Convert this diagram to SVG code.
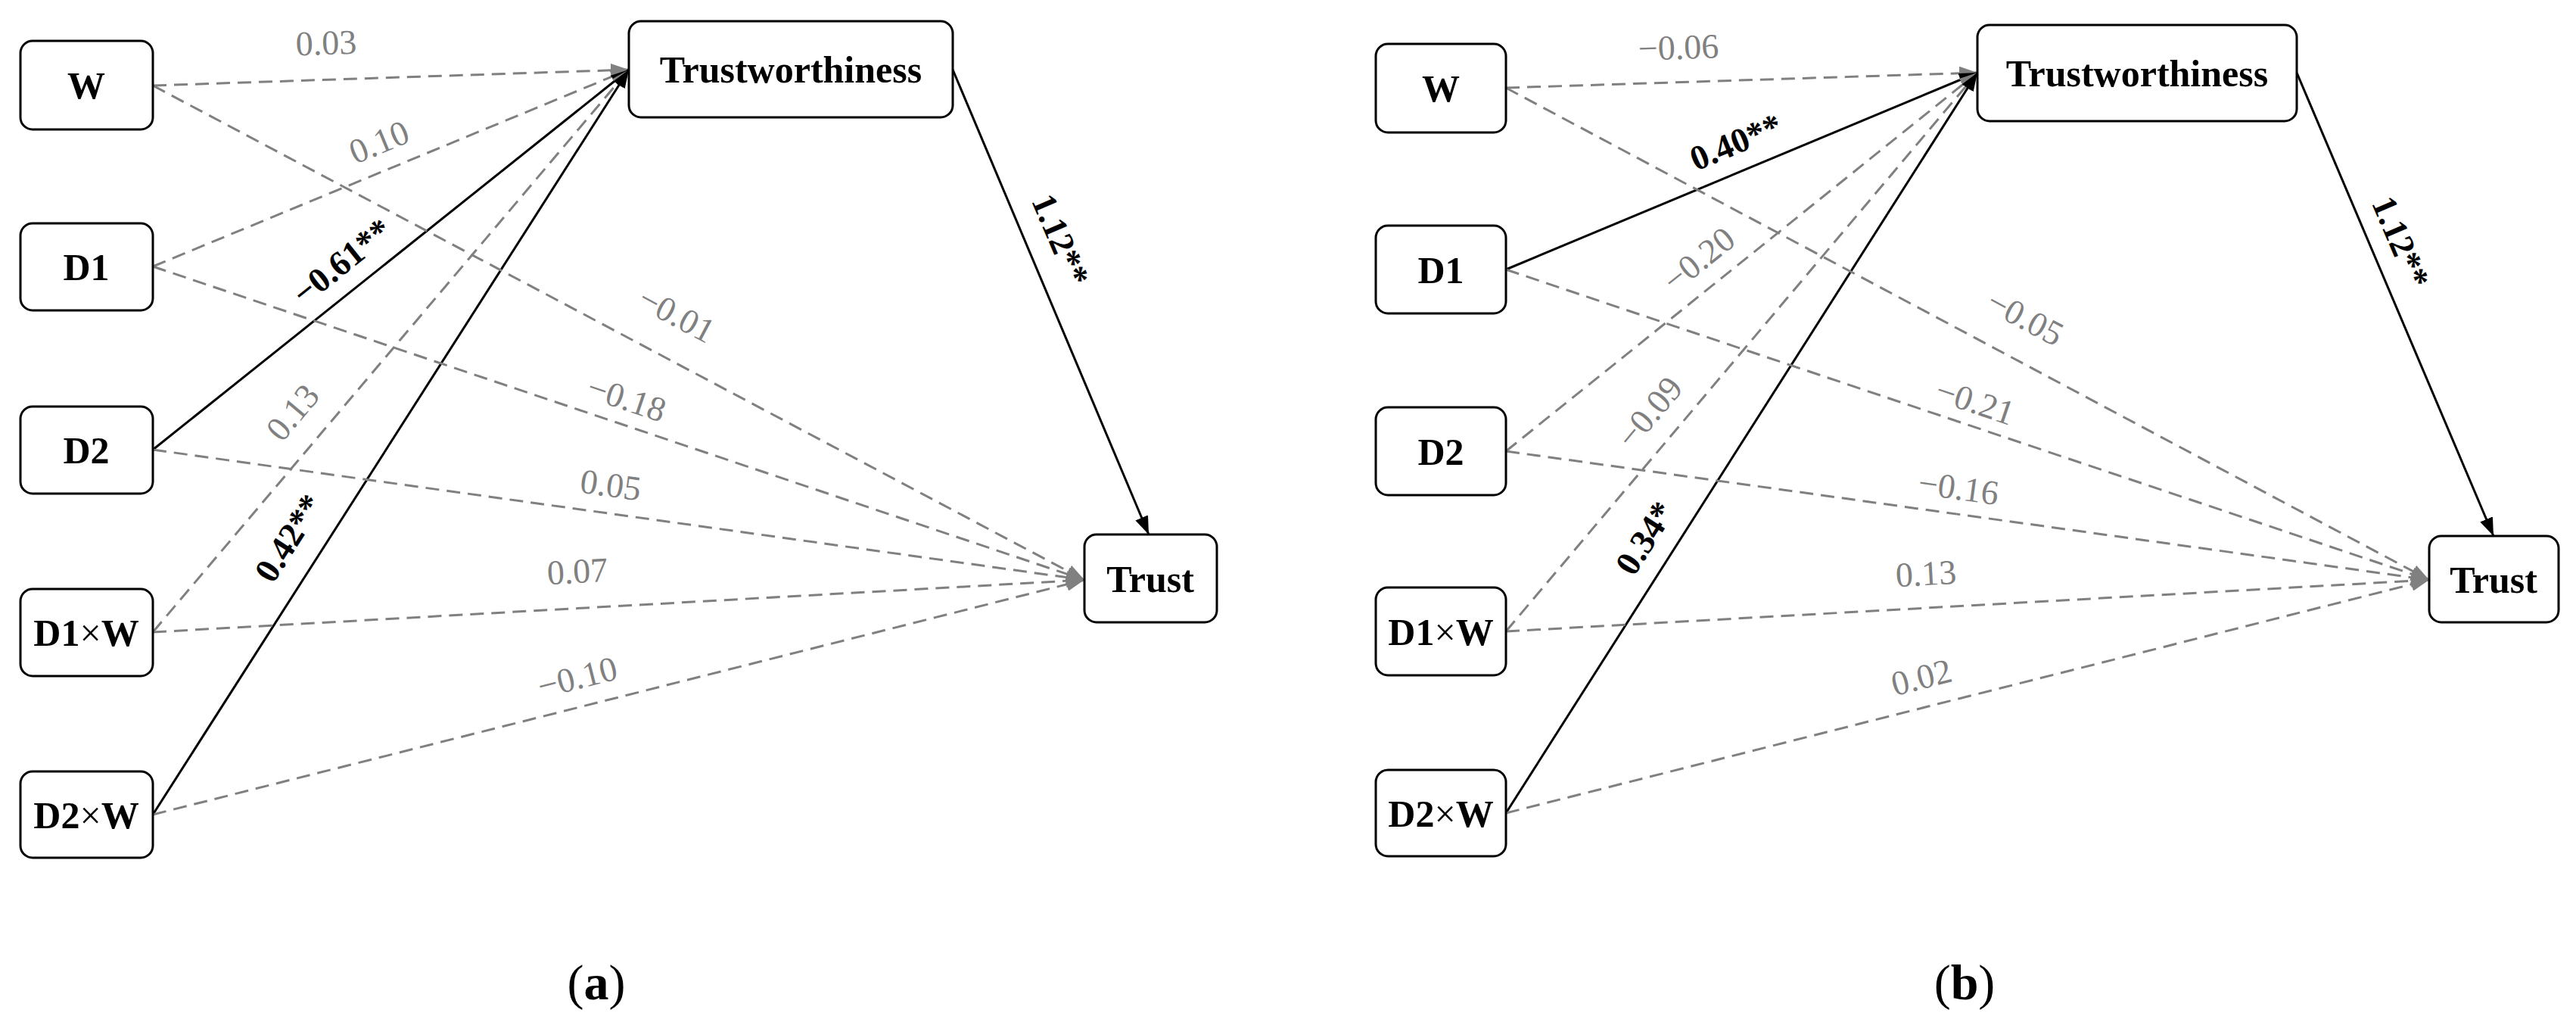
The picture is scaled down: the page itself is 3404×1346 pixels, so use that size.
<svg xmlns="http://www.w3.org/2000/svg" width="3404" height="1346" viewBox="0 0 3404 1346">
<style>
.box{fill:#fff;stroke:#000;stroke-width:3}
.nt{font-family:"Liberation Serif",serif;font-weight:bold;font-size:50px;text-anchor:middle;fill:#000}
.g{stroke:#808080;stroke-width:3;stroke-dasharray:18 10;fill:none}
.k{stroke:#000;stroke-width:3;fill:none}
.gl{font-family:"Liberation Serif",serif;font-size:46px;fill:#808080;text-anchor:middle}
.kl{font-family:"Liberation Serif",serif;font-size:46px;font-weight:bold;fill:#000;text-anchor:middle}
.cap{font-family:"Liberation Serif",serif;font-size:66px;fill:#000;text-anchor:middle}
</style>
<defs>
<marker id="ag" markerWidth="24" markerHeight="18" refX="24" refY="9" orient="auto" markerUnits="userSpaceOnUse" viewBox="0 0 24 18"><path d="M0,0 L24,9 L0,18 Z" fill="#808080"/></marker>
<marker id="ak" markerWidth="24" markerHeight="18" refX="24" refY="9" orient="auto" markerUnits="userSpaceOnUse" viewBox="0 0 24 18"><path d="M0,0 L24,9 L0,18 Z" fill="#000"/></marker>
</defs>
<g id="connectors">
<g id="conn-a">
<line class="g" x1="202" y1="113" x2="831" y2="92" marker-end="url(#ag)"/>
<line class="g" x1="202" y1="352" x2="831" y2="92" marker-end="url(#ag)"/>
<line class="k" x1="202" y1="594" x2="831" y2="92" marker-end="url(#ak)"/>
<line class="g" x1="202" y1="835" x2="831" y2="92" marker-end="url(#ag)"/>
<line class="k" x1="202" y1="1076" x2="831" y2="92" marker-end="url(#ak)"/>
<line class="g" x1="202" y1="113" x2="1433" y2="766" marker-end="url(#ag)"/>
<line class="g" x1="202" y1="352" x2="1433" y2="766" marker-end="url(#ag)"/>
<line class="g" x1="202" y1="594" x2="1433" y2="766" marker-end="url(#ag)"/>
<line class="g" x1="202" y1="835" x2="1433" y2="766" marker-end="url(#ag)"/>
<line class="g" x1="202" y1="1076" x2="1433" y2="766" marker-end="url(#ag)"/>
<line class="k" x1="1259" y1="92" x2="1518" y2="706" marker-end="url(#ak)"/>
</g>
<g id="conn-b">
<line class="g" x1="1990" y1="116" x2="2613" y2="96" marker-end="url(#ag)"/>
<line class="k" x1="1990" y1="356" x2="2613" y2="96" marker-end="url(#ak)"/>
<line class="g" x1="1990" y1="596" x2="2613" y2="96" marker-end="url(#ag)"/>
<line class="g" x1="1990" y1="834" x2="2613" y2="96" marker-end="url(#ag)"/>
<line class="k" x1="1990" y1="1074" x2="2613" y2="96" marker-end="url(#ak)"/>
<line class="g" x1="1990" y1="116" x2="3210" y2="766" marker-end="url(#ag)"/>
<line class="g" x1="1990" y1="356" x2="3210" y2="766" marker-end="url(#ag)"/>
<line class="g" x1="1990" y1="596" x2="3210" y2="766" marker-end="url(#ag)"/>
<line class="g" x1="1990" y1="834" x2="3210" y2="766" marker-end="url(#ag)"/>
<line class="g" x1="1990" y1="1074" x2="3210" y2="766" marker-end="url(#ag)"/>
<line class="k" x1="3035" y1="96" x2="3295" y2="708" marker-end="url(#ak)"/>
</g>
</g>
<g id="labels">
<text class="gl" transform="translate(431,57) rotate(-2)" y="15">0.03</text>
<text class="gl" transform="translate(501,188) rotate(-22.5)" y="15">0.10</text>
<text class="kl" transform="translate(452,346) rotate(-38.6)" y="15">−0.61**</text>
<text class="gl" transform="translate(894,416) rotate(28)" y="15">−0.01</text>
<text class="gl" transform="translate(828,527) rotate(18.6)" y="15">−0.18</text>
<text class="gl" transform="translate(387,545) rotate(-49.7)" y="15">0.13</text>
<text class="gl" transform="translate(807,641) rotate(8)" y="15">0.05</text>
<text class="kl" transform="translate(382,711) rotate(-57.4)" y="15">0.42**</text>
<text class="gl" transform="translate(763,755) rotate(-3.2)" y="15">0.07</text>
<text class="gl" transform="translate(763,895) rotate(-14.1)" y="15">−0.10</text>
<text class="kl" transform="translate(1401,317) rotate(67)" y="15">1.12**</text>
<text class="gl" transform="translate(2218,63) rotate(-2)" y="15">−0.06</text>
<text class="kl" transform="translate(2294,188) rotate(-22.6)" y="15">0.40**</text>
<text class="gl" transform="translate(2245,343) rotate(-38.7)" y="15">−0.20</text>
<text class="gl" transform="translate(2676,420) rotate(28)" y="15">−0.05</text>
<text class="gl" transform="translate(2610,531) rotate(18.6)" y="15">−0.21</text>
<text class="gl" transform="translate(2180,545) rotate(-49.8)" y="15">−0.09</text>
<text class="gl" transform="translate(2588,645) rotate(7.9)" y="15">−0.16</text>
<text class="kl" transform="translate(2174,711) rotate(-57.5)" y="15">0.34*</text>
<text class="gl" transform="translate(2545,758) rotate(-3.2)" y="15">0.13</text>
<text class="gl" transform="translate(2539,895) rotate(-14.2)" y="15">0.02</text>
<text class="kl" transform="translate(3172,320) rotate(67)" y="15">1.12**</text>
</g>
<g id="a-W"><rect class="box" x="27" y="54" width="175" height="117" rx="16"/><text class="nt" x="114" y="130">W</text></g>
<g id="a-D1"><rect class="box" x="27" y="295" width="175" height="115" rx="16"/><text class="nt" x="114" y="370">D1</text></g>
<g id="a-D2"><rect class="box" x="27" y="537" width="175" height="115" rx="16"/><text class="nt" x="114" y="612">D2</text></g>
<g id="a-D1W"><rect class="box" x="27" y="778" width="175" height="115" rx="16"/><text class="nt" x="114" y="853">D1<tspan font-weight="normal">×</tspan>W</text></g>
<g id="a-D2W"><rect class="box" x="27" y="1019" width="175" height="114" rx="16"/><text class="nt" x="114" y="1094">D2<tspan font-weight="normal">×</tspan>W</text></g>
<g id="a-TW"><rect class="box" x="831" y="28" width="428" height="127" rx="16"/><text class="nt" x="1045" y="109">Trustworthiness</text></g>
<g id="a-T"><rect class="box" x="1433" y="706" width="175" height="116" rx="16"/><text class="nt" x="1520" y="782">Trust</text></g>
<g id="b-W"><rect class="box" x="1818" y="58" width="172" height="117" rx="16"/><text class="nt" x="1904" y="134">W</text></g>
<g id="b-D1"><rect class="box" x="1818" y="298" width="172" height="116" rx="16"/><text class="nt" x="1904" y="374">D1</text></g>
<g id="b-D2"><rect class="box" x="1818" y="538" width="172" height="116" rx="16"/><text class="nt" x="1904" y="614">D2</text></g>
<g id="b-D1W"><rect class="box" x="1818" y="776" width="172" height="116" rx="16"/><text class="nt" x="1904" y="852">D1<tspan font-weight="normal">×</tspan>W</text></g>
<g id="b-D2W"><rect class="box" x="1818" y="1017" width="172" height="114" rx="16"/><text class="nt" x="1904" y="1092">D2<tspan font-weight="normal">×</tspan>W</text></g>
<g id="b-TW"><rect class="box" x="2613" y="33" width="422" height="127" rx="16"/><text class="nt" x="2824" y="114">Trustworthiness</text></g>
<g id="b-T"><rect class="box" x="3210" y="708" width="171" height="114" rx="16"/><text class="nt" x="3295" y="783">Trust</text></g>
<text class="cap" x="788" y="1320">(<tspan font-weight="bold">a</tspan>)</text>
<text class="cap" x="2596" y="1320">(<tspan font-weight="bold">b</tspan>)</text>
</svg>
